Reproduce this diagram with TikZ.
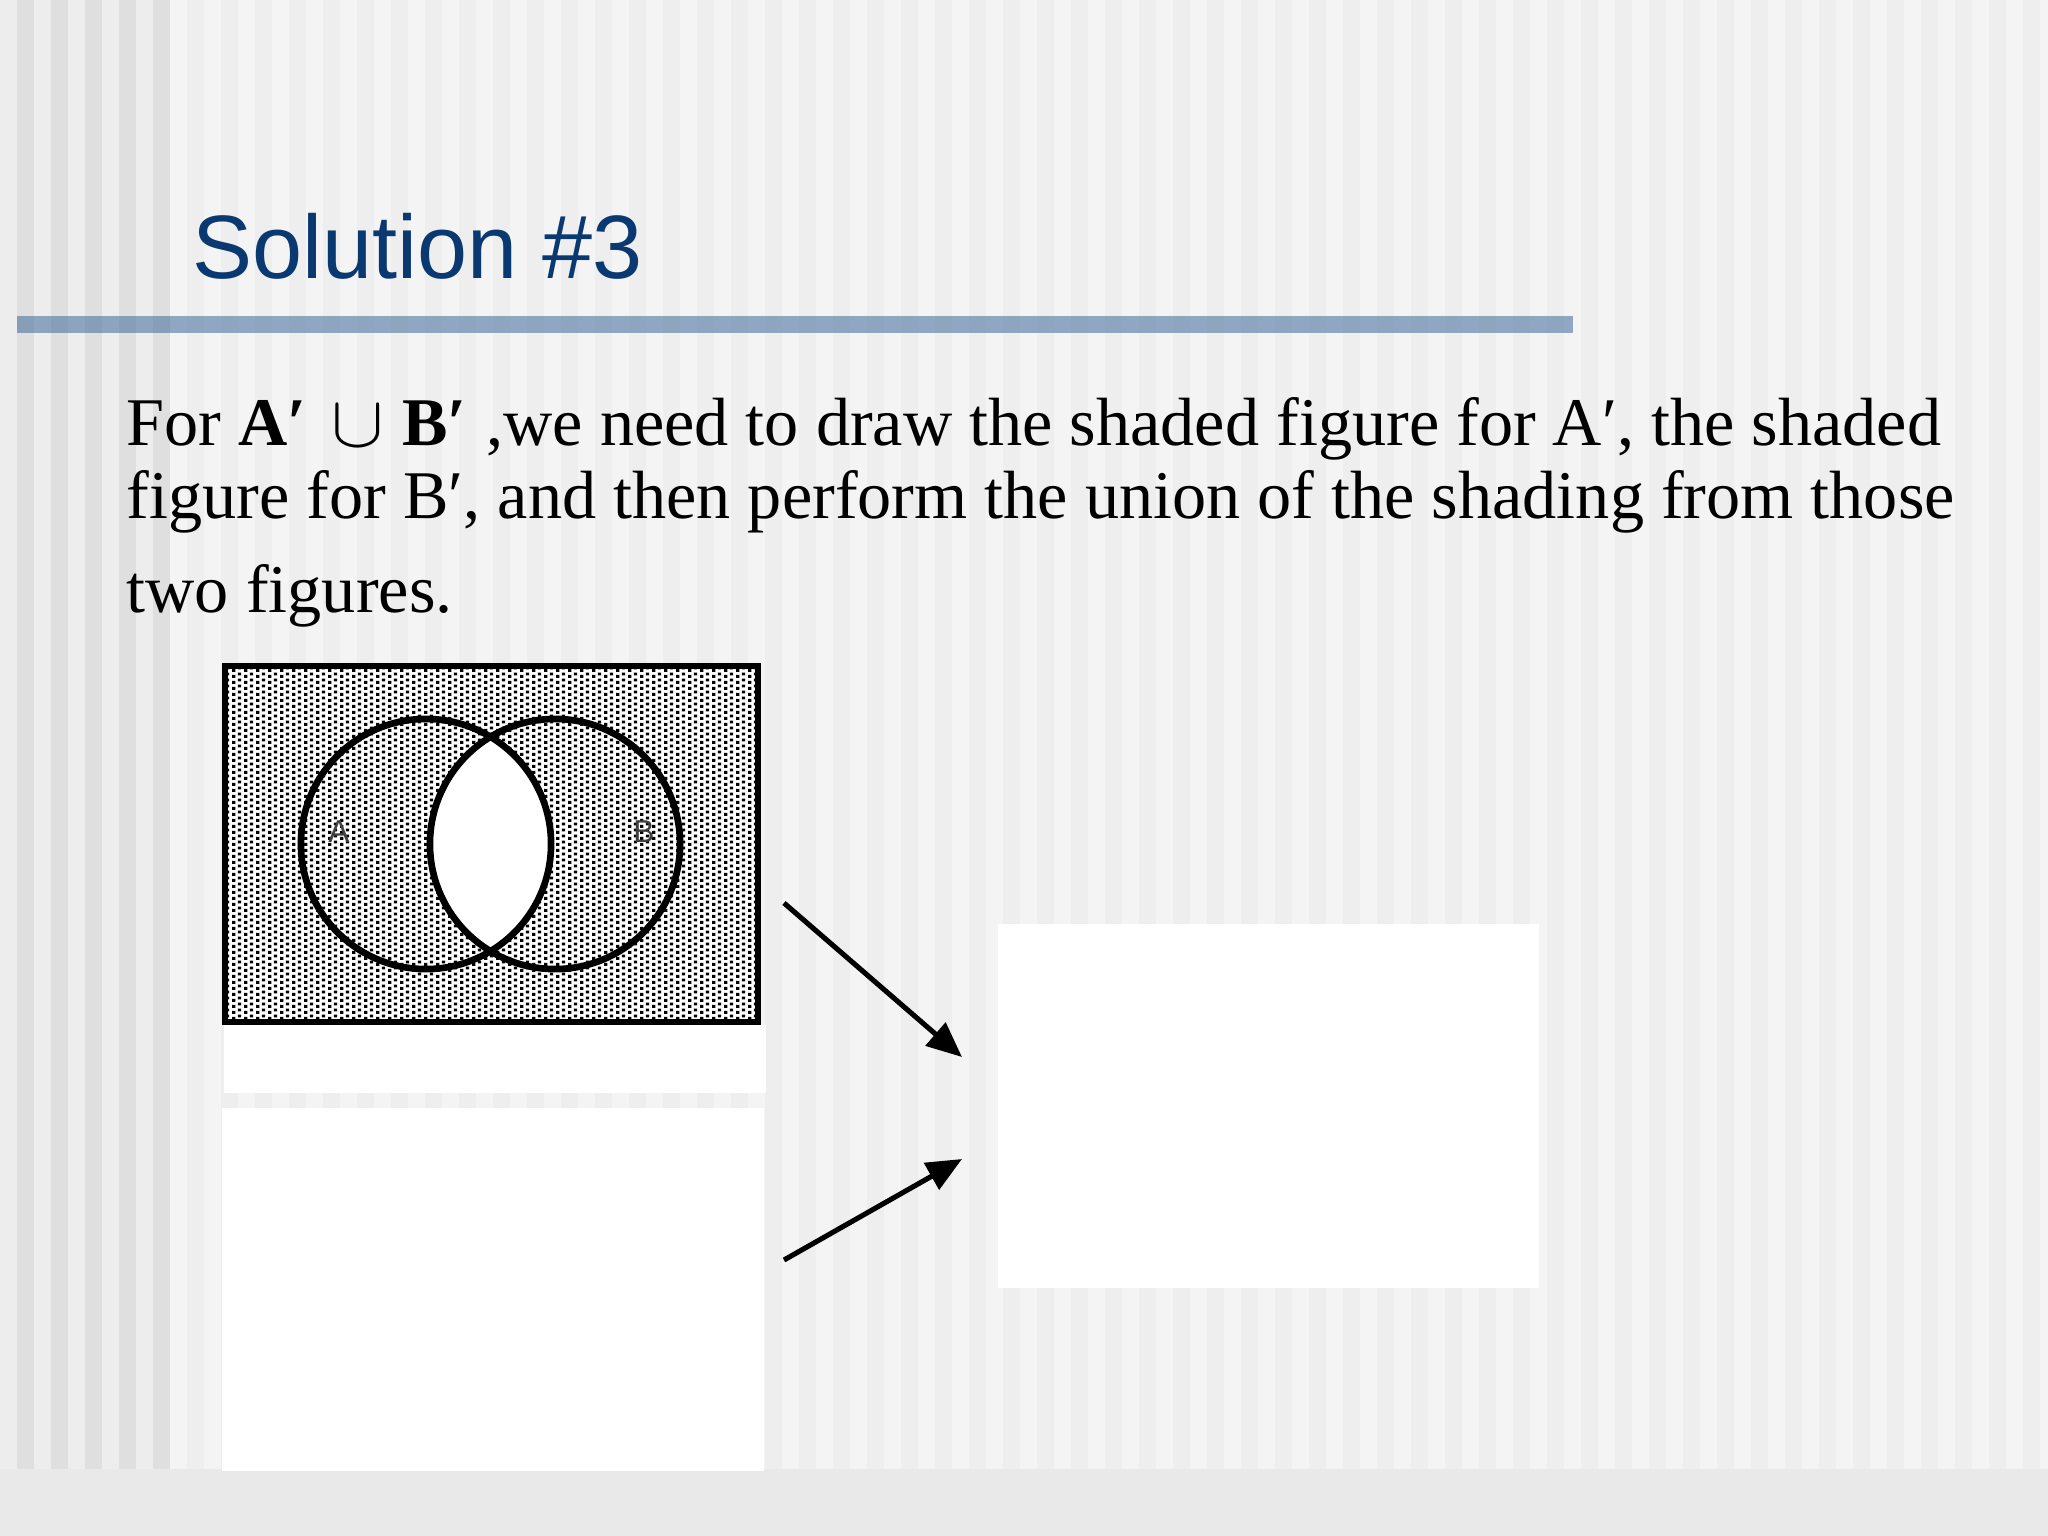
\documentclass[tikz,border=0pt]{standalone}
\usepackage{fontspec}
\usepackage{graphicx}
\setmainfont{Liberation Serif}
\newfontfamily\titlefont{Liberation Sans}
\usetikzlibrary{arrows.meta,patterns}

\definecolor{titleblue}{RGB}{10,56,112}
\definecolor{barblue}{RGB}{68,110,156}
\definecolor{bgbase}{RGB}{244,244,245}
\definecolor{bgstripe}{RGB}{238,238,239}
\definecolor{leftlight}{RGB}{237,237,237}
\definecolor{leftdark}{RGB}{223,223,223}
\definecolor{bottomband}{RGB}{233,233,234}

\pgfdeclarepatternformonly{venndots}{\pgfqpoint{0pt}{0pt}}{\pgfqpoint{3.3pt}{1.65pt}}{\pgfqpoint{3.3pt}{1.65pt}}{%
  \pgfpathrectangle{\pgfqpoint{0.05pt}{0.05pt}}{\pgfqpoint{0.95pt}{0.9pt}}%
  \pgfpathrectangle{\pgfqpoint{1.7pt}{0.75pt}}{\pgfqpoint{0.95pt}{0.85pt}}%
  \pgfusepath{fill}}

\newcommand{\wideunion}{\raisebox{-0.5pt}{\scalebox{1.08}[1.0]{$\cup$}}}

\tikzset{
  bodytext/.style={anchor=base west, inner sep=0pt, font=\fontsize{19.4}{22}\selectfont},
  titletext/.style={anchor=base west, inner sep=0pt, text=titleblue, font=\titlefont\fontsize{25.6}{30}\selectfont},
  whitepanel/.style={fill=white},
  venncircle/.style={draw=black, line width=1.9pt},
  setlabel/.style={inner sep=0pt, text=black!75, font=\titlefont\fontsize{9}{10}\selectfont},
  bigarrow/.style={draw=black, line width=1.45pt, -{Triangle[length=10pt,width=8.5pt]}}
}

\begin{document}
\begin{tikzpicture}[x=0.01cm, y=-0.01cm]
\useasboundingbox (0,0) rectangle (2048,1536);

% background stripes
\fill[bgbase] (0,0) rectangle (2048,1469);
\fill[leftlight] (0,0) rectangle (170,1469);
\foreach \i in {0,...,4} \fill[leftdark] ({17+34*\i},0) rectangle ({34+34*\i},1469);
\foreach \i in {0,...,54} \fill[bgstripe] ({187+34*\i},0) rectangle ({204+34*\i},1469);
\fill[bottomband] (0,1469) rectangle (2048,1536);

% title and rule
\node[titletext] (title) at (192,278) {Solution \#3};
\fill[barblue, fill opacity=0.57] (17,316) rectangle (1573,333);

% body text
\node[bodytext] (line1) at (126,445) {For \textbf{A′}\hspace{6.9pt}\wideunion\hspace{5.2pt}\textbf{B′}\hspace{5.6pt},we need to draw the shaded figure for A′, the shaded};
\node[bodytext] (line2) at (126,518) {figure for B′, and then perform the union of the shading from those};
\node[bodytext] (line3) at (126,612) {two figures.};

% white panels
\fill[whitepanel] (224,1025) rectangle (766,1093);
\fill[whitepanel] (222,1108) rectangle (764,1471);
\node[whitepanel, minimum width=5.41cm, minimum height=3.64cm, inner sep=0pt, anchor=north west] (result) at (997,923) {};

% Venn diagram of A' union B'
\coordinate (cA) at (426,844);
\coordinate (cB) at (555,844);
\fill[white] (225,666) rectangle (758,1022);
\fill[pattern=venndots, pattern color=black] (225,666) rectangle (758,1022);
\begin{scope}
  \clip (cA) circle[radius=1.25cm];
  \fill[white] (cB) circle[radius=1.25cm];
\end{scope}
\draw[venncircle] (cA) circle[radius=1.25cm];
\draw[venncircle] (cB) circle[radius=1.25cm];
\draw[black, line width=1.8pt] (225,666) rectangle (758,1022);
\node[setlabel] (labA) at (339,832) {A};
\node[setlabel] (labB) at (644,832) {B};

% arrows
\coordinate (s1) at (784,903);
\coordinate (e1) at (962,1057);
\coordinate (s2) at (784,1260);
\coordinate (e2) at (962,1159);
\draw[bigarrow] (s1) -- (e1);
\draw[bigarrow] (s2) -- (e2);
\end{tikzpicture}
\end{document}
